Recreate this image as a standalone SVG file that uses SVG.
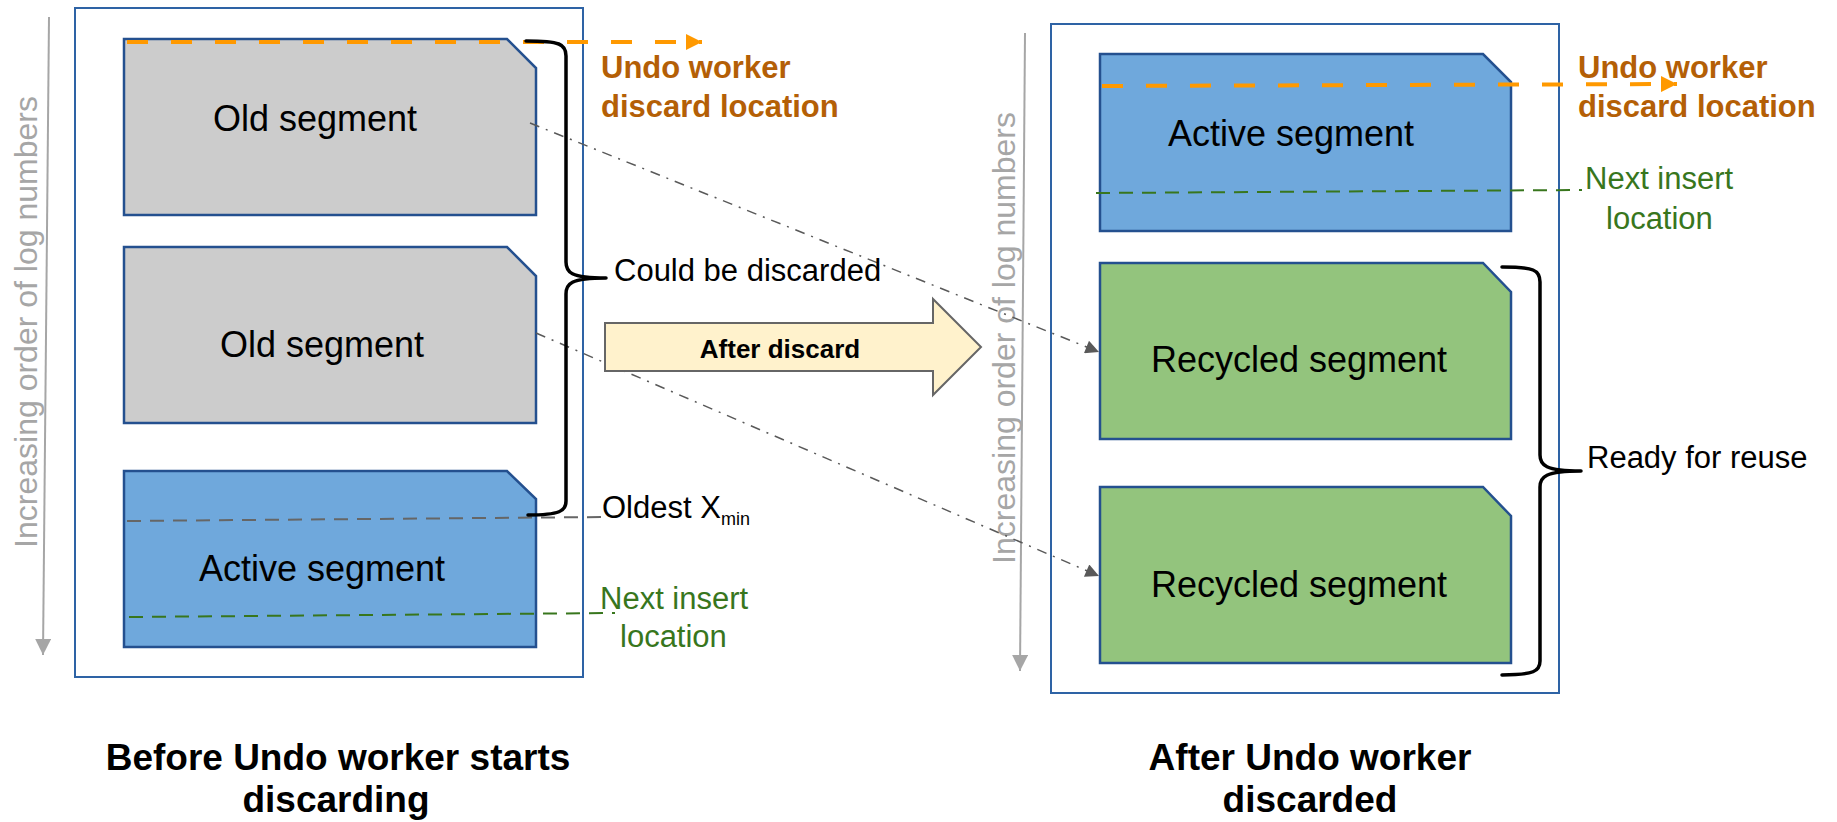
<svg xmlns="http://www.w3.org/2000/svg" width="1837" height="822" viewBox="0 0 1837 822">
<style>
  text { font-family: "Liberation Sans", Arial, sans-serif; }
  .panel { fill: #ffffff; stroke: #2e63a5; stroke-width: 2; }
  .seg { stroke: #24508f; stroke-width: 2.5; }
  .old { fill: #cccccc; }
  .active { fill: #6fa8dc; }
  .recycled { fill: #93c47d; }
  .segtxt { font-size: 36px; fill: #000000; text-anchor: middle; }
  .axis { stroke: #a6a6a6; stroke-width: 2; fill: none; }
  .axistxt { font-size: 32px; fill: #a6a6a6; text-anchor: middle; }
  .orange { stroke: #ff9900; stroke-width: 4; stroke-dasharray: 21 23; fill: none; }
  .orangetxt { font-size: 31px; font-weight: bold; fill: #b45f06; }
  .green { stroke: #38761d; stroke-width: 2; stroke-dasharray: 14 9; fill: none; }
  .greentxt { font-size: 31px; fill: #38761d; }
  .graydash { stroke: #666666; stroke-width: 2; stroke-dasharray: 14 9; fill: none; }
  .dashdot { stroke: #595959; stroke-width: 1.5; stroke-dasharray: 10 7 2 7; fill: none; }
  .brace { stroke: #000000; stroke-width: 3.5; fill: none; stroke-linecap: round; }
  .label { font-size: 31px; fill: #000000; }
  .title { font-size: 37px; font-weight: bold; fill: #000000; text-anchor: middle; }
</style>
<defs>
  <marker id="arrOrange" viewBox="0 0 10 10" refX="10" refY="5" markerWidth="4" markerHeight="4" markerUnits="strokeWidth" orient="auto">
    <path d="M0,0 L10,5 L0,10 Z" fill="#ff9900"/>
  </marker>
  <marker id="arrGray" viewBox="0 0 10 10" refX="10" refY="5" markerWidth="11" markerHeight="9" markerUnits="strokeWidth" orient="auto">
    <path d="M0,0 L10,5 L0,10 Z" fill="#595959"/>
  </marker>
  <marker id="arrAxis" viewBox="0 0 10 10" refX="10" refY="5" markerWidth="8" markerHeight="8" markerUnits="strokeWidth" orient="auto">
    <path d="M0,0 L10,5 L0,10 Z" fill="#a6a6a6"/>
  </marker>
</defs>

<!-- Left panel -->
<g id="left-axis">
  <line class="axis" x1="49" y1="17" x2="43" y2="655" marker-end="url(#arrAxis)"/>
  <text class="axistxt" transform="translate(37,322) rotate(-90)">Increasing order of log numbers</text>
</g>
<g id="left-panel">
  <rect class="panel" x="75" y="8" width="508" height="669"/>
</g>
<g id="left-old-segment-1">
  <path class="seg old" d="M124,39 H507 L536,68 V215 H124 Z"/>
  <text class="segtxt" x="315" y="131">Old segment</text>
</g>
<g id="left-old-segment-2">
  <path class="seg old" d="M124,247 H507 L536,276 V423 H124 Z"/>
  <text class="segtxt" x="322" y="357">Old segment</text>
</g>
<g id="left-active-segment">
  <path class="seg active" d="M124,471 H507 L536,499 V647 H124 Z"/>
  <text class="segtxt" x="322" y="581">Active segment</text>
</g>

<!-- Right panel -->
<g id="right-axis">
  <line class="axis" x1="1025" y1="33" x2="1020" y2="671" marker-end="url(#arrAxis)"/>
  <text class="axistxt" transform="translate(1015,338) rotate(-90)">Increasing order of log numbers</text>
</g>
<g id="right-panel">
  <rect class="panel" x="1051" y="24" width="508" height="669"/>
</g>
<g id="right-active-segment">
  <path class="seg active" d="M1100,54 H1483 L1511,82 V231 H1100 Z"/>
  <text class="segtxt" x="1291" y="146">Active segment</text>
</g>
<g id="right-recycled-segment-1">
  <path class="seg recycled" d="M1100,263 H1483 L1511,292 V439 H1100 Z"/>
  <text class="segtxt" x="1299" y="372">Recycled segment</text>
</g>
<g id="right-recycled-segment-2">
  <path class="seg recycled" d="M1100,487 H1483 L1511,516 V663 H1100 Z"/>
  <text class="segtxt" x="1299" y="597">Recycled segment</text>
</g>

<!-- Connectors -->
<g id="connectors">
  <line class="orange" x1="127" y1="42" x2="702" y2="42" marker-end="url(#arrOrange)"/>
  <line class="orange" x1="1102" y1="86" x2="1677" y2="84" marker-end="url(#arrOrange)"/>
  <line class="graydash" x1="127" y1="521" x2="605" y2="517"/>
  <line class="green" x1="129" y1="617" x2="615" y2="613"/>
  <line class="green" x1="1096" y1="193" x2="1582" y2="190"/>
  <line class="dashdot" x1="530" y1="123" x2="1099" y2="352" marker-end="url(#arrGray)"/>
  <line class="dashdot" x1="536" y1="333" x2="1099" y2="576" marker-end="url(#arrGray)"/>
  <path class="brace" d="M526,41 C560,41 566,44 566,56 L566,262 C566,272 570,278 606,278 M566,294 C566,284 570,278 606,278 M566,294 L566,501 C566,511 560,515 528,515"/>
  <path class="brace" d="M1502,267 C1534,267 1540,270 1540,282 L1540,455 C1540,465 1545,471 1581,471 M1540,487 C1540,477 1545,471 1581,471 M1540,487 L1540,661 C1540,671 1534,675 1502,675"/>
</g>

<!-- After discard arrow -->
<g id="after-discard">
  <path d="M605,323 H933 V299 L981,347 L933,395 V371 H605 Z" fill="#fff2cc" stroke="#666666" stroke-width="2"/>
  <text x="780" y="358" font-size="26" font-weight="bold" text-anchor="middle" fill="#000000">After discard</text>
</g>

<!-- Labels -->
<g id="label-undo-left">
  <text class="orangetxt" x="601" y="78">Undo worker</text>
  <text class="orangetxt" x="601" y="117">discard location</text>
</g>
<g id="label-could-be-discarded">
  <text class="label" x="614" y="281">Could be discarded</text>
</g>
<g id="label-oldest-xmin">
  <text class="label" x="602" y="518">Oldest X<tspan font-size="18" dy="7">min</tspan></text>
</g>
<g id="label-next-insert-left">
  <text class="greentxt" x="600" y="609">Next insert</text>
  <text class="greentxt" x="620" y="647">location</text>
</g>
<g id="label-undo-right">
  <text class="orangetxt" x="1578" y="78">Undo worker</text>
  <text class="orangetxt" x="1578" y="117">discard location</text>
</g>
<g id="label-next-insert-right">
  <text class="greentxt" x="1585" y="189">Next insert</text>
  <text class="greentxt" x="1606" y="229">location</text>
</g>
<g id="label-ready">
  <text class="label" x="1587" y="468">Ready for reuse</text>
</g>
<g id="title-left">
  <text class="title" x="338" y="770">Before Undo worker starts</text>
  <text class="title" x="336" y="812">discarding</text>
</g>
<g id="title-right">
  <text class="title" x="1310" y="770">After Undo worker</text>
  <text class="title" x="1310" y="812">discarded</text>
</g>
</svg>
